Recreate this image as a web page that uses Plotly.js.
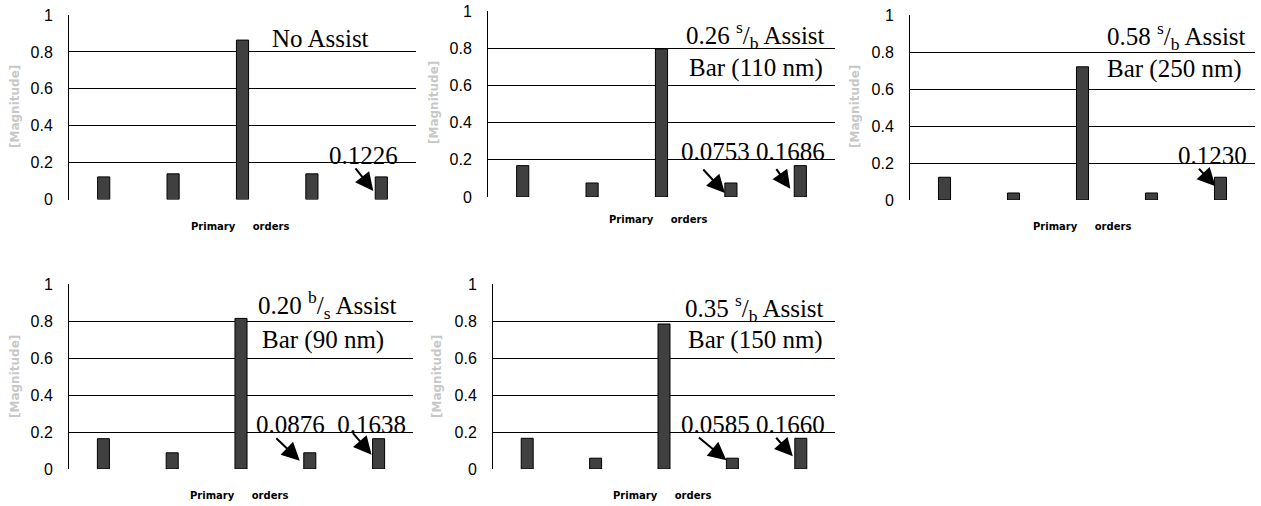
<!DOCTYPE html>
<html><head><meta charset="utf-8">
<script src="https://cdn.plot.ly/plotly-3.0.1.min.js"></script>
<style>html,body{margin:0;padding:0;background:#fff}#c{width:1261px;height:506px}</style>
</head><body><div id="c"></div>
<script>
// Data
const orders = [-2, -1, 0, 1, 2];
const noAssist   = [0.1226, 0.139, 0.864, 0.139, 0.1226];
const assist026  = [0.1686, 0.0753, 0.796, 0.0753, 0.1686];
const assist058  = [0.1230, 0.038, 0.720, 0.038, 0.1230];
const assist020  = [0.1638, 0.0876, 0.814, 0.0876, 0.1638];
const assist035  = [0.1660, 0.0585, 0.784, 0.0585, 0.1660];
const yTicks = [0, 0.2, 0.4, 0.6, 0.8, 1];
const yTickText = ['0', '0.2', '0.4', '0.6', '0.8', '1'];
const panelLines = [
  ['No Assist'],
  ['0.26 <sup>s</sup>/<sub>b</sub> Assist', 'Bar (110 nm)'],
  ['0.58 <sup>s</sup>/<sub>b</sub> Assist', 'Bar (250 nm)'],
  ['0.20 <sup>b</sup>/<sub>s</sub> Assist', 'Bar (90 nm)'],
  ['0.35 <sup>s</sup>/<sub>b</sub> Assist', 'Bar (150 nm)']
];
const valueLabels = ['0.1226', '0.0753\u00a00.1686', '0.1230', '0.0876\u00a0\u00a00.1638', '0.0585\u00a00.1660'];
const series = [noAssist, assist026, assist058, assist020, assist035];
const xTitle = 'Primary\u00a0\u00a0\u00a0\u00a0 orders';
const yTitle = '[Magnitude]';

// Layout (pixel geometry)
const W = 1261, H = 506;
const panels = [
  {l: 69,  r: 416,  t: 15,  b: 199.5, ytx: 15,  yty: 107, xtx: 240,  xty: 226},
  {l: 488, r: 835,  t: 11,  b: 197,   ytx: 434, yty: 103, xtx: 658,  xty: 220},
  {l: 910, r: 1255, t: 15,  b: 200,   ytx: 855, yty: 107, xtx: 1082, xty: 226},
  {l: 69,  r: 413,  t: 284, b: 469,   ytx: 15,  yty: 377, xtx: 239,  xty: 495},
  {l: 493, r: 835,  t: 284, b: 469,   ytx: 437, yty: 377, xtx: 662,  xty: 495}
];
// text positions in data coords of each panel: [x, y] per line
const linePos = [
  [[3.13, 0.875]],
  [[3.36, 0.871], [3.36, 0.694]],
  [[3.36, 0.886], [3.33, 0.708]],
  [[3.25, 0.886], [3.19, 0.697]],
  [[3.32, 0.870], [3.34, 0.697]]
];
const valPos = [[3.74, 0.241], [3.32, 0.242], [3.885, 0.243], [3.31, 0.243], [3.30, 0.243]];
// arrows: [barIndex, xshift, yshift, ax, ay]
const arrows = [
  [[4, -8, -14, -19, -24]],
  [[3, -6, -10, -23, -25], [4, -10, -23, -15, -21]],
  [[4, -5, -9, -18, -19]],
  [[3, -10, -8, -25, -24], [4, -7, -16, -20, -23]],
  [[3, -6, -2, -29, -24], [4, -8, -18, -18, -20]]
];

const data = [];
const layout = {
  width: W, height: H, margin: {l: 0, r: 0, t: 0, b: 0},
  paper_bgcolor: '#fff', plot_bgcolor: '#fff', showlegend: false,
  font: {family: 'Liberation Sans, Arial, sans-serif', color: '#000'},
  annotations: [], bargap: 0
};
const idx = [0, 1, 2, 3, 4];
panels.forEach((p, i) => {
  const sfx = i === 0 ? '' : String(i + 1);
  data.push({
    type: 'bar', x: idx, y: series[i], xaxis: 'x' + sfx, yaxis: 'y' + sfx,
    width: 0.175, marker: {color: '#404040', line: {color: '#000', width: 1}},
    customdata: orders, hoverinfo: 'y'
  });
  layout['xaxis' + sfx] = {
    domain: [p.l / W, p.r / W], anchor: 'y' + sfx, range: [-0.5, 4.5],
    showticklabels: false, showgrid: false, zeroline: false, showline: false, ticks: ''
  };
  layout['yaxis' + sfx] = {
    domain: [1 - p.b / H, 1 - p.t / H], anchor: 'x' + sfx, range: [0, 1],
    tickvals: yTicks, ticktext: yTickText, showgrid: true, gridcolor: '#000', gridwidth: 1,
    zeroline: false, showline: true, linecolor: '#000', linewidth: 1, ticks: '',
    ticklabelstandoff: 12, tickfont: {size: 16, family: 'Liberation Sans, Arial, sans-serif', color: '#000'}
  };
  const xr = 'x' + sfx, yr = 'y' + sfx;
  panelLines[i].forEach((t, k) => {
    layout.annotations.push({xref: xr, yref: yr, x: linePos[i][k][0], y: linePos[i][k][1],
      text: t, showarrow: false, xanchor: 'center', yanchor: 'middle',
      font: {family: 'Liberation Serif, Times New Roman, serif', size: 25, color: '#000'}});
  });
  layout.annotations.push({xref: xr, yref: yr, x: valPos[i][0], y: valPos[i][1],
    text: valueLabels[i], showarrow: false, xanchor: 'center', yanchor: 'middle',
    font: {family: 'Liberation Serif, Times New Roman, serif', size: 25, color: '#000'}});
  arrows[i].forEach(a => {
    layout.annotations.push({xref: xr, yref: yr, x: idx[a[0]], y: series[i][a[0]],
      xshift: a[1], yshift: a[2], ax: a[3], ay: a[4], text: '', showarrow: true,
      arrowhead: 2, arrowsize: 1.8, arrowwidth: 2, arrowcolor: '#000', standoff: 0});
  });
  layout.annotations.push({xref: 'paper', yref: 'paper', x: p.xtx / W, y: 1 - p.xty / H,
    text: xTitle, showarrow: false, xanchor: 'center', yanchor: 'middle',
    font: {family: 'DejaVu Sans, Verdana, sans-serif', size: 10, color: '#000', weight: 'bold'}});
  layout.annotations.push({xref: 'paper', yref: 'paper', x: p.ytx / W, y: 1 - p.yty / H,
    text: yTitle, showarrow: false, textangle: -90, xanchor: 'center', yanchor: 'middle',
    font: {family: 'DejaVu Sans, Verdana, sans-serif', size: 12, color: '#c8c8c8', weight: 'bold'}});
});
Plotly.newPlot('c', data, layout, {staticPlot: true});
</script></body></html>
